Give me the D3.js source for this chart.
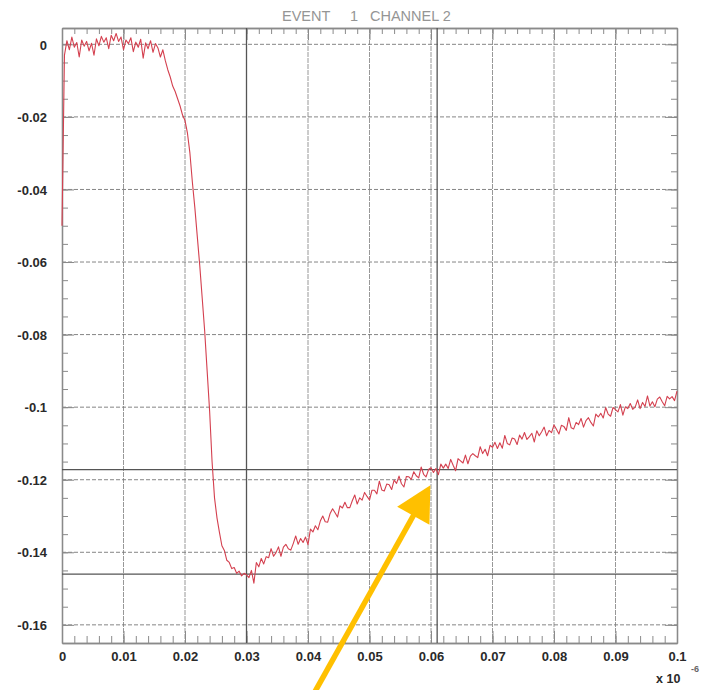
<!DOCTYPE html>
<html>
<head>
<meta charset="utf-8">
<script src="https://cdn.jsdelivr.net/npm/d3@7/dist/d3.min.js"></script>
<style>
  html, body { margin: 0; padding: 0; background: #fff; }
  svg { display: block; font-family: "Liberation Sans", Arial, Helvetica, sans-serif; }
</style>
</head>
<body>
<svg id="chart" width="702" height="690"></svg>
<script>
// ---- data -------------------------------------------------------------
const titleParts = ["EVENT", "1", "CHANNEL 2"];
const sampleStep = 0.0004;           // time between samples (x 10^-6)
// channel 2 amplitude, one value per sample
const amplitude = [
  -0.0500,-0.0030, 0.0010,-0.0015, 0.0020,-0.0008, 0.0005,-0.0035, 0.0012,-0.0005,
   0.0008,-0.0018, 0.0003,-0.0030, 0.0015,-0.0004, 0.0022, 0.0006, 0.0018,-0.0012,
   0.0025, 0.0010, 0.0030, 0.0008, 0.0020,-0.0015, 0.0012, 0.0002, 0.0018,-0.0020,
   0.0006,-0.0008, 0.0014,-0.0038, 0.0004,-0.0012, 0.0010,-0.0022, 0.0002,-0.0010,
  -0.0035,-0.0015,-0.0045,-0.0070,-0.0090,-0.0115,-0.0130,-0.0150,-0.0170,-0.0195,
  -0.0210,-0.0245,-0.0300,-0.0380,-0.0450,-0.0530,-0.0610,-0.0700,-0.0790,-0.0900,
  -0.1010,-0.1150,-0.1250,-0.1305,-0.1345,-0.1382,-0.1395,-0.1422,-0.1428,-0.1445,
  -0.1442,-0.1458,-0.1452,-0.1465,-0.1458,-0.1462,-0.1470,-0.1450,-0.1485,-0.1428,
  -0.1440,-0.1417,-0.1432,-0.1412,-0.1415,-0.1390,-0.1411,-0.1401,-0.1385,-0.1411,
  -0.1386,-0.1378,-0.1390,-0.1394,-0.1376,-0.1355,-0.1378,-0.1362,-0.1373,-0.1358,
  -0.1379,-0.1336,-0.1344,-0.1327,-0.1338,-0.1314,-0.1300,-0.1316,-0.1317,-0.1293,
  -0.1280,-0.1291,-0.1303,-0.1272,-0.1278,-0.1262,-0.1277,-0.1277,-0.1258,-0.1242,
  -0.1267,-0.1250,-0.1256,-0.1235,-0.1246,-0.1256,-0.1229,-0.1229,-0.1239,-0.1204,
  -0.1228,-0.1231,-0.1212,-0.1214,-0.1227,-0.1201,-0.1210,-0.1190,-0.1211,-0.1220,
  -0.1191,-0.1192,-0.1199,-0.1178,-0.1189,-0.1195,-0.1165,-0.1185,-0.1192,-0.1172,
  -0.1167,-0.1180,-0.1169,-0.1186,-0.1157,-0.1168,-0.1157,-0.1169,-0.1144,-0.1160,
  -0.1175,-0.1142,-0.1148,-0.1154,-0.1132,-0.1156,-0.1135,-0.1128,-0.1134,-0.1139,
  -0.1109,-0.1128,-0.1116,-0.1134,-0.1105,-0.1111,-0.1097,-0.1114,-0.1098,-0.1113,
  -0.1078,-0.1100,-0.1104,-0.1085,-0.1088,-0.1103,-0.1077,-0.1088,-0.1070,-0.1089,
  -0.1081,-0.1072,-0.1096,-0.1065,-0.1079,-0.1068,-0.1055,-0.1079,-0.1064,-0.1070,
  -0.1049,-0.1061,-0.1074,-0.1050,-0.1053,-0.1064,-0.1029,-0.1057,-0.1060,-0.1042,
  -0.1048,-0.1031,-0.1055,-0.1037,-0.1029,-0.1042,-0.1052,-0.1019,-0.1027,-0.1017,
  -0.1030,-0.1001,-0.1019,-0.1025,-0.1001,-0.1007,-0.1013,-0.0993,-0.1022,-0.0999,
  -0.1004,-0.0990,-0.1006,-0.1000,-0.0980,-0.1004,-0.0987,-0.0998,-0.0969,-0.0997,
  -0.0985,-0.0999,-0.0978,-0.0972,-0.0985,-0.0996,-0.0970,-0.0977,-0.0971,-0.0982,
  -0.0956
];
const xTicks = [0, 0.01, 0.02, 0.03, 0.04, 0.05, 0.06, 0.07, 0.08, 0.09, 0.1];
const xTickLabels = ["0", "0.01", "0.02", "0.03", "0.04", "0.05", "0.06", "0.07", "0.08", "0.09", "0.1"];
const yTicks = [0, -0.02, -0.04, -0.06, -0.08, -0.1, -0.12, -0.14, -0.16];
const yTickLabels = ["0", "-0.02", "-0.04", "-0.06", "-0.08", "-0.1", "-0.12", "-0.14", "-0.16"];
const cursorX = [0.03, 0.061];
const cursorY = [-0.1172, -0.146];
const pointerTip = [0.0599, -0.1215];   // annotated point on the trace

// ---- layout -----------------------------------------------------------
const svg = d3.select("#chart");
const plotLeft = 62, plotRight = 677, plotTop = 28, plotBottom = 643;

const x = d3.scaleLinear().domain([0, 0.1]).range([plotLeft, plotRight]);
const y = d3.scaleLinear().domain([-0.165, 0.0045]).range([plotBottom, plotTop]);

const samples = amplitude.map((v, i) => ({ t: i * sampleStep, v }));

svg.append("rect").attr("x", 0).attr("y", 0).attr("width", 702).attr("height", 690).attr("fill", "#fff");

// title, words spaced as on the scope header
const titleX = [282, 350, 370];
svg.append("g").selectAll("text").data(titleParts).join("text")
  .attr("x", (d, i) => titleX[i]).attr("y", 21)
  .attr("fill", "#959595")
  .attr("font-size", 14.5)
  .text(d => d);

// grid
const grid = svg.append("g");
grid.selectAll("line.vg").data(xTicks.slice(1, -1)).join("line")
  .attr("x1", d => x(d)).attr("x2", d => x(d))
  .attr("y1", plotTop).attr("y2", plotBottom)
  .attr("stroke", "#8c8c8c").attr("stroke-width", 0.9)
  .attr("stroke-dasharray", "5,1");
grid.selectAll("line.hg").data(yTicks).join("line")
  .attr("x1", plotLeft).attr("x2", plotRight)
  .attr("y1", d => y(d)).attr("y2", d => y(d))
  .attr("stroke", "#777").attr("stroke-width", 0.9)
  .attr("stroke-dasharray", "4,2");

// axes (ticks on all four sides, pointing inward)
const minorX = d3.range(0, 0.1 + 1e-9, 0.002);
const minorY = d3.range(0, -0.165, -0.005);

const axisBottom = d3.axisBottom(x).tickValues(xTicks).tickFormat((d, i) => xTickLabels[i]).tickSizeInner(-12).tickSizeOuter(0).tickPadding(9);
const axisTop = d3.axisTop(x).tickValues(xTicks).tickFormat("").tickSizeInner(-12).tickSizeOuter(0);
const axisLeft = d3.axisLeft(y).tickValues(yTicks).tickFormat((d, i) => yTickLabels[i]).tickSizeInner(-12).tickSizeOuter(0).tickPadding(15);
const axisRight = d3.axisRight(y).tickValues(yTicks).tickFormat("").tickSizeInner(-12).tickSizeOuter(0);

const minBottom = d3.axisBottom(x).tickValues(minorX).tickFormat("").tickSizeInner(-7).tickSizeOuter(0);
const minTop = d3.axisTop(x).tickValues(minorX).tickFormat("").tickSizeInner(-6).tickSizeOuter(0);
const minLeft = d3.axisLeft(y).tickValues(minorY).tickFormat("").tickSizeInner(-6).tickSizeOuter(0);
const minRight = d3.axisRight(y).tickValues(minorY).tickFormat("").tickSizeInner(-6).tickSizeOuter(0);

function styleAxis(g) {
  g.selectAll("path.domain").attr("stroke", "#8a8a8a").attr("stroke-width", 1.3);
  g.selectAll(".tick line").attr("stroke", "#8a8a8a").attr("stroke-width", 1);
  g.selectAll(".tick text").attr("fill", "#2a2a2a").attr("font-size", 13).attr("font-weight", "bold")
    .attr("font-family", "'Liberation Sans', Arial, sans-serif");
}

svg.append("g").attr("transform", `translate(0,${plotBottom})`).call(minBottom).call(styleAxis);
svg.append("g").attr("transform", `translate(0,${plotTop})`).call(minTop).call(styleAxis);
svg.append("g").attr("transform", `translate(${plotLeft},0)`).call(minLeft).call(styleAxis);
svg.append("g").attr("transform", `translate(${plotRight},0)`).call(minRight).call(styleAxis);

svg.append("g").attr("transform", `translate(0,${plotBottom})`).call(axisBottom).call(styleAxis);
svg.append("g").attr("transform", `translate(0,${plotTop})`).call(axisTop).call(styleAxis);
svg.append("g").attr("transform", `translate(${plotLeft},0)`).call(axisLeft).call(styleAxis)
  .selectAll(".tick text").attr("dy", "0.36em");
svg.append("g").attr("transform", `translate(${plotRight},0)`).call(axisRight).call(styleAxis);

// scale factor of the time axis
const expLabel = svg.append("text").attr("x", 656).attr("y", 683)
  .attr("fill", "#2a2a2a").attr("font-size", 12.5).attr("font-weight", "bold");
expLabel.append("tspan").text("x 10");
expLabel.append("tspan").attr("x", 691).attr("dy", -11).attr("font-size", 9).attr("fill", "#666").text("-6");

// cursor lines
svg.selectAll("line.cx").data(cursorX).join("line")
  .attr("x1", d => x(d)).attr("x2", d => x(d))
  .attr("y1", plotTop).attr("y2", plotBottom)
  .attr("stroke", "#555").attr("stroke-width", 1.3);
svg.selectAll("line.cy").data(cursorY).join("line")
  .attr("x1", plotLeft).attr("x2", plotRight)
  .attr("y1", d => y(d)).attr("y2", d => y(d))
  .attr("stroke", "#555").attr("stroke-width", 1.3);

// trace
const line = d3.line().x(d => x(d.t)).y(d => y(d.v));
svg.append("path")
  .datum(samples)
  .attr("d", line)
  .attr("fill", "none")
  .attr("stroke", "#d4404f")
  .attr("stroke-width", 1.1)
  .attr("stroke-linejoin", "round");

// pointer arrow
const tip = [x(pointerTip[0]), y(pointerTip[1])];
const dir = [0.488, -0.873];
const nrm = [-dir[1], dir[0]];
const headLen = 35, headHalf = 18.5;
const base = [tip[0] - headLen * dir[0], tip[1] - headLen * dir[1]];
const tail = [tip[0] - 260 * dir[0], tip[1] - 260 * dir[1]];
svg.append("line")
  .attr("x1", tail[0]).attr("y1", tail[1])
  .attr("x2", base[0] + 2 * dir[0]).attr("y2", base[1] + 2 * dir[1])
  .attr("stroke", "#ffc000").attr("stroke-width", 5.5);
svg.append("path")
  .attr("d", `M${tip[0]},${tip[1]}L${base[0] - headHalf * nrm[0]},${base[1] - headHalf * nrm[1]}L${base[0] + headHalf * nrm[0]},${base[1] + headHalf * nrm[1]}Z`)
  .attr("fill", "#ffc000");
</script>
</body>
</html>
